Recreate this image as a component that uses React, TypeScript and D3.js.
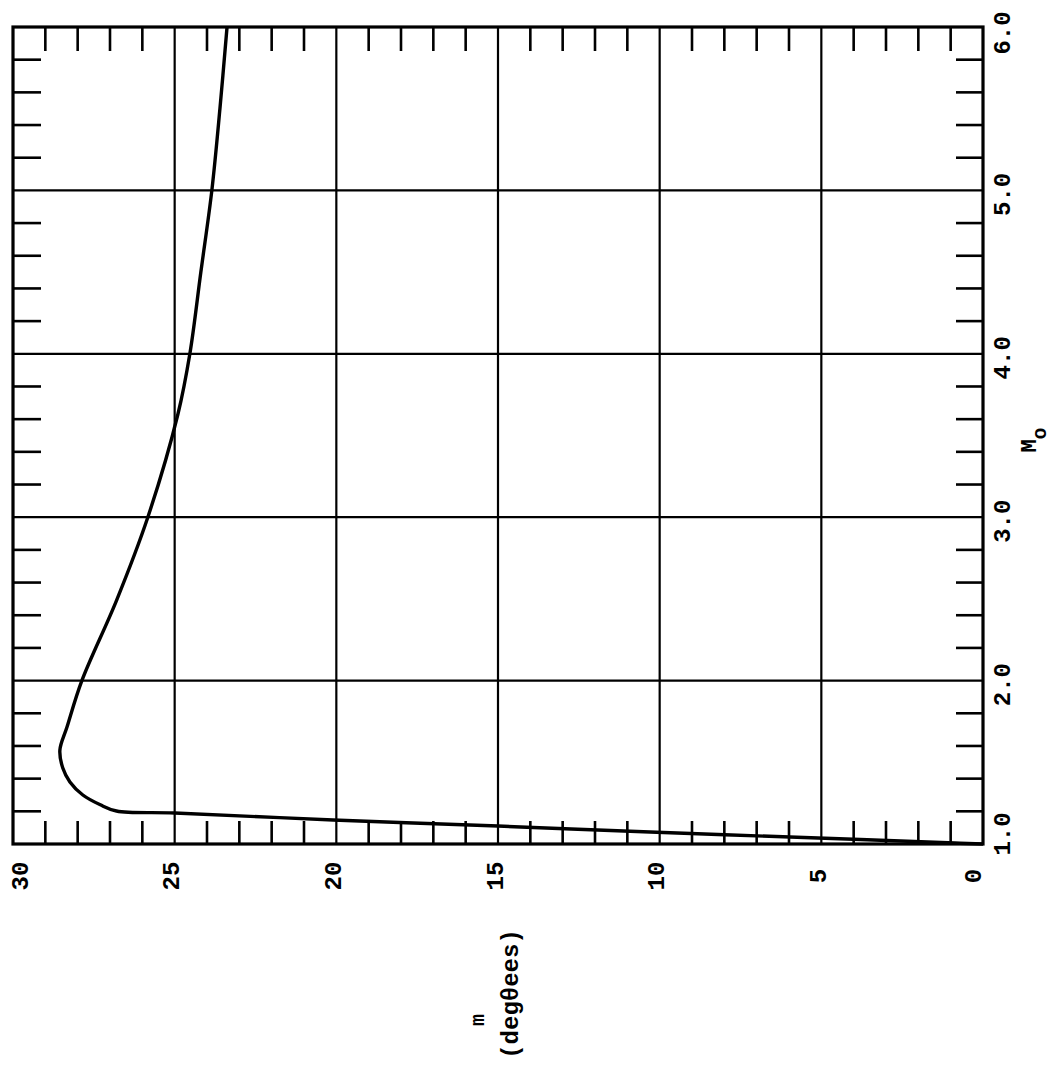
import React from "react";
import * as d3 from "d3";

// Curve: Mach number M_o vs. theta_m (degrees)
const machValues = [1.0, 1.006, 1.037, 1.073, 1.11, 1.147, 1.19, 1.202, 1.24, 1.3, 1.38, 1.465, 1.575, 1.716, 2.0, 2.49, 3.0, 3.63, 4.0, 4.5, 5.0, 5.5, 6.0];
const thetaValues = [0, 0.87, 5.1, 10.3, 15.0, 20.1, 25.0, 26.8, 27.3, 27.84, 28.24, 28.46, 28.55, 28.33, 27.87, 26.8, 25.83, 24.9, 24.53, 24.19, 23.85, 23.6, 23.38];

const thetaTickLabels = ["30", "25", "20", "15", "10", "5", "0"];
const thetaTickValues = [30, 25, 20, 15, 10, 5, 0];
const machTickLabels = ["1.0", "2.0", "3.0", "4.0", "5.0", "6.0"];
const machTickValues = [1, 2, 3, 4, 5, 6];

const W = 1054;
const H = 1078;
const FONT = "'Liberation Mono', 'DejaVu Sans Mono', monospace";

export default function App() {
  const xS = d3.scaleLinear().domain([30, 0]).range([13, 983]);
  const yS = d3.scaleLinear().domain([1, 6]).range([844, 27]);

  const pts: [number, number][] = machValues.map((m, i) => [xS(thetaValues[i]), yS(m)]);
  const line = d3.line().curve(d3.curveCatmullRom.alpha(0.5))(pts) || "";

  const minorTheta = d3.range(1, 30).filter((v) => v % 5 !== 0);
  const minorMach = d3.range(1.2, 6.0, 0.2).map((v) => Math.round(v * 10) / 10).filter((v) => Math.abs(v - Math.round(v)) > 0.01);
  const gridTheta = [25, 20, 15, 10, 5];
  const gridMach = [2, 3, 4, 5];

  const x0 = xS(30), x1 = xS(0), y0 = yS(6), y1 = yS(1);

  return (
    <svg width={W} height={H} style={{ position: "absolute", left: 0, top: 0, background: "#fff" }}>
      <rect x={0} y={0} width={W} height={H} fill="#fff" />
      {/* grid */}
      {gridTheta.map((t) => (
        <line key={"gt" + t} x1={xS(t)} x2={xS(t)} y1={y0} y2={y1} stroke="#000" strokeWidth={2.2} />
      ))}
      {gridMach.map((m) => (
        <line key={"gm" + m} x1={x0} x2={x1} y1={yS(m)} y2={yS(m)} stroke="#000" strokeWidth={2.2} />
      ))}
      {/* minor ticks top & bottom */}
      {minorTheta.map((t) => (
        <g key={"mt" + t}>
          <line x1={xS(t)} x2={xS(t)} y1={y1} y2={y1 - 23} stroke="#000" strokeWidth={2.6} />
          <line x1={xS(t)} x2={xS(t)} y1={y0} y2={y0 + 24} stroke="#000" strokeWidth={2.6} />
        </g>
      ))}
      {/* minor ticks left & right */}
      {minorMach.map((m) => (
        <g key={"mm" + m}>
          <line x1={x0} x2={x0 + 28} y1={yS(m)} y2={yS(m)} stroke="#000" strokeWidth={2.6} />
          <line x1={x1} x2={x1 - 27} y1={yS(m)} y2={yS(m)} stroke="#000" strokeWidth={2.6} />
        </g>
      ))}
      {/* frame */}
      <rect x={x0} y={y0} width={x1 - x0} height={y1 - y0} fill="none" stroke="#000" strokeWidth={3.2} />
      {/* curve */}
      <path d={line} fill="none" stroke="#000" strokeWidth={3.4} strokeLinejoin="round" />
      {/* theta tick labels */}
      {thetaTickValues.map((t, i) => (
        <text key={"tl" + t} transform={`translate(${xS(t) + (t === 30 ? 8 : t === 0 ? -9 : -2)},876) rotate(-90)`}
          textAnchor="middle" dominantBaseline="central" fontFamily={FONT} fontWeight="bold" fontSize={24} fill="#000">
          {thetaTickLabels[i]}
        </text>
      ))}
      {/* mach tick labels */}
      {machTickValues.map((m, i) => (
        <text key={"ml" + m} transform={`translate(1003,${yS(m) + (m === 1 ? -10 : m === 6 ? 6 : 4)}) rotate(-90)`}
          textAnchor="middle" dominantBaseline="central" fontFamily={FONT} fontWeight="bold" fontSize={24} fill="#000">
          {machTickLabels[i]}
        </text>
      ))}
      {/* M_o axis title */}
      <text transform="translate(1030,440) rotate(-90)" textAnchor="middle" dominantBaseline="central"
        fontFamily={FONT} fontWeight="bold" fontSize={22} fill="#000">
        M<tspan dy={10} fontSize={20}>o</tspan>
      </text>
      {/* theta_m axis title */}
      <text transform="translate(478,1020) rotate(-90)" textAnchor="middle" dominantBaseline="central"
        fontFamily={FONT} fontWeight="bold" fontSize={20} fill="#000">
        m
      </text>
      <text transform="translate(511,994) rotate(-90)" textAnchor="middle" dominantBaseline="central"
        fontFamily={FONT} fontWeight="bold" fontSize={24} fill="#000">
        (deg<tspan>θ</tspan>ees)
      </text>
    </svg>
  );
}
